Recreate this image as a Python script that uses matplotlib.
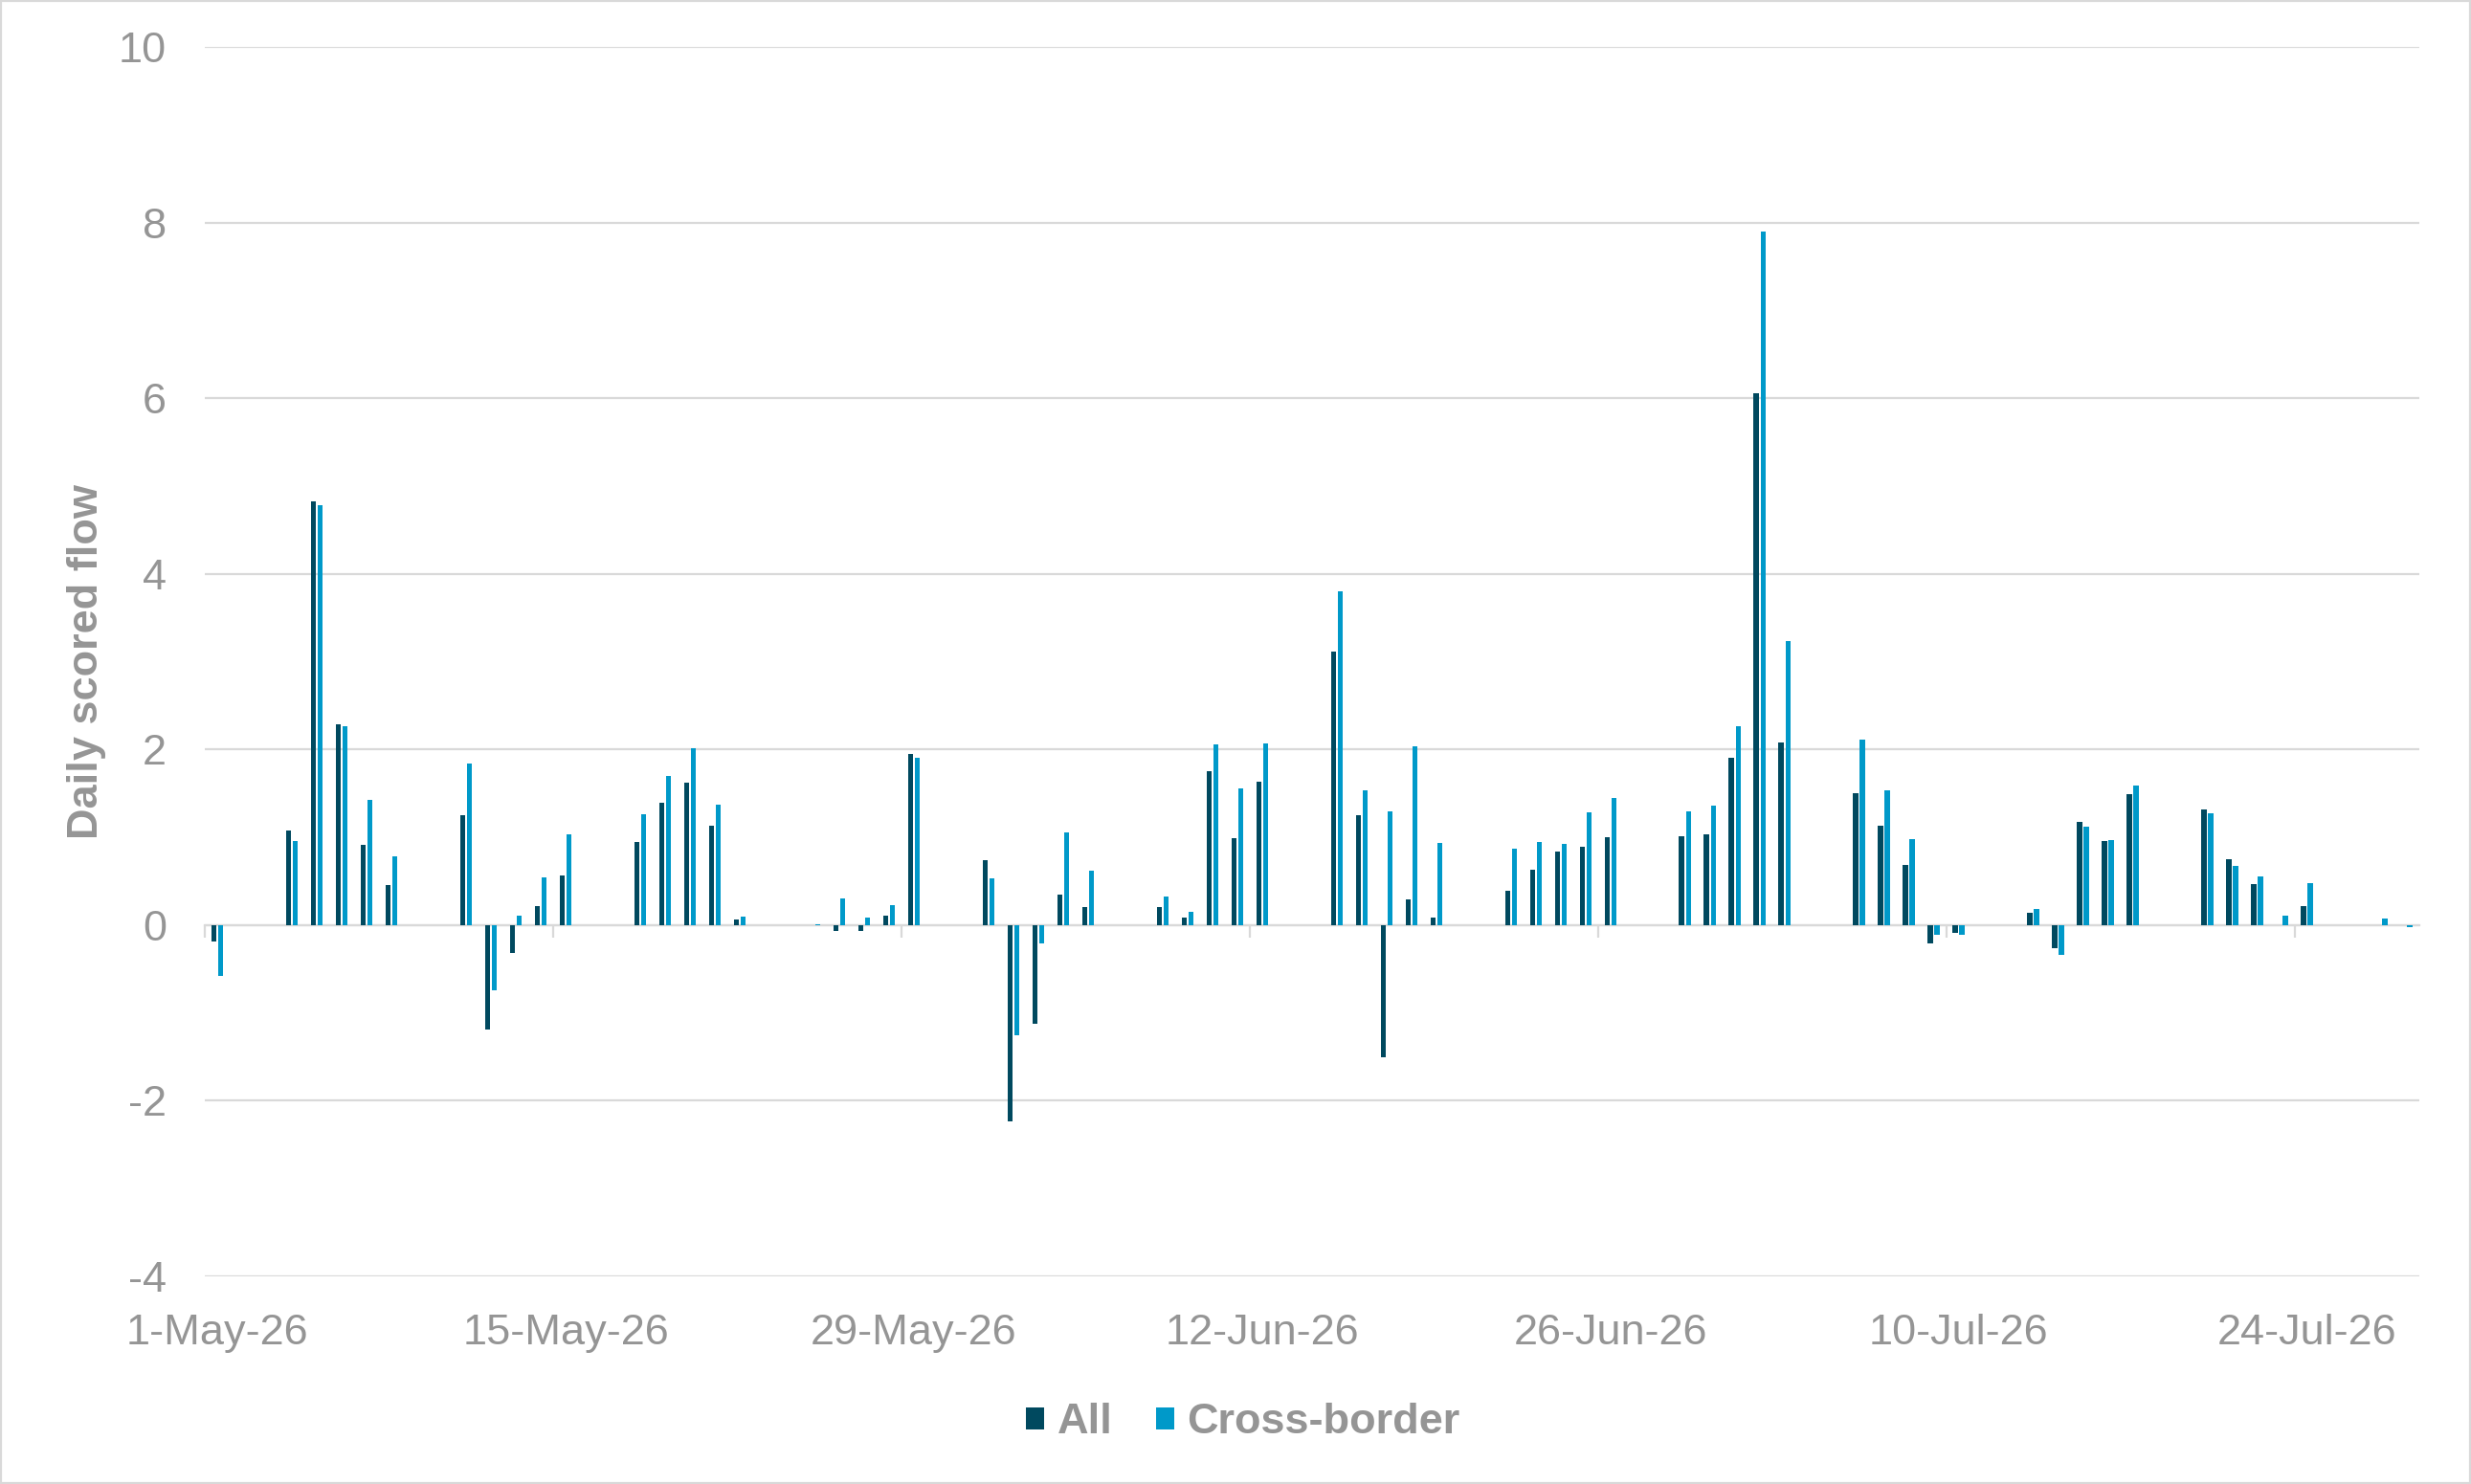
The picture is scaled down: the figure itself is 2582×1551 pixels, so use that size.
import matplotlib
matplotlib.use("Agg")
import matplotlib.pyplot as plt
import matplotlib.dates as mdates
from matplotlib.ticker import FixedLocator, FuncFormatter
import pandas as pd

plt.rcParams['font.family'] = ['Liberation Sans', 'DejaVu Sans']
plt.rcParams['axes.unicode_minus'] = False

dates = [
    "2026-05-01", "2026-05-04", "2026-05-05", "2026-05-06", "2026-05-07", "2026-05-08",
    "2026-05-11", "2026-05-12", "2026-05-13", "2026-05-14", "2026-05-15",
    "2026-05-18", "2026-05-19", "2026-05-20", "2026-05-21", "2026-05-22",
    "2026-05-25", "2026-05-26", "2026-05-27", "2026-05-28", "2026-05-29",
    "2026-06-01", "2026-06-02", "2026-06-03", "2026-06-04", "2026-06-05",
    "2026-06-08", "2026-06-09", "2026-06-10", "2026-06-11", "2026-06-12",
    "2026-06-15", "2026-06-16", "2026-06-17", "2026-06-18", "2026-06-19",
    "2026-06-22", "2026-06-23", "2026-06-24", "2026-06-25", "2026-06-26",
    "2026-06-29", "2026-06-30", "2026-07-01", "2026-07-02", "2026-07-03",
    "2026-07-06", "2026-07-07", "2026-07-08", "2026-07-09", "2026-07-10",
    "2026-07-13", "2026-07-14", "2026-07-15", "2026-07-16", "2026-07-17",
    "2026-07-20", "2026-07-21", "2026-07-22", "2026-07-23", "2026-07-24",
    "2026-07-27", "2026-07-28",
]

all_flow = [
    -0.19, 1.08, 4.82, 2.285, 0.91, 0.46,
    1.25, -1.19, -0.32, 0.22, 0.56,
    0.95, 1.39, 1.62, 1.13, 0.06,
    0.0, -0.07, -0.07, 0.11, 1.95,
    0.74, -2.24, -1.12, 0.35, 0.21,
    0.21, 0.09, 1.755, 0.99, 1.63,
    3.11, 1.25, -1.51, 0.29, 0.085,
    0.39, 0.63, 0.84, 0.89, 1.00,
    1.01, 1.03, 1.91, 6.06, 2.08,
    1.50, 1.13, 0.69, -0.21, -0.09,
    0.145, -0.26, 1.17, 0.96, 1.49,
    1.32, 0.75, 0.47, 0.0, 0.22,
    0.0, 0.0,
]

cross_border = [
    -0.58, 0.955, 4.78, 2.26, 1.43, 0.78,
    1.84, -0.74, 0.11, 0.54, 1.03,
    1.26, 1.70, 2.01, 1.37, 0.10,
    0.01, 0.30, 0.09, 0.23, 1.91,
    0.53, -1.25, -0.21, 1.06, 0.62,
    0.33, 0.15, 2.06, 1.56, 2.07,
    3.80, 1.54, 1.30, 2.04, 0.935,
    0.87, 0.95, 0.93, 1.28, 1.45,
    1.29, 1.36, 2.26, 7.895, 3.23,
    2.11, 1.54, 0.98, -0.105, -0.105,
    0.18, -0.34, 1.12, 0.97, 1.59,
    1.275, 0.67, 0.55, 0.11, 0.48,
    0.07, -0.02,
]

label_dates = ["2026-05-01", "2026-05-15", "2026-05-29", "2026-06-12",
               "2026-06-26", "2026-07-10", "2026-07-24"]
y_ticks = [-4, -2, 0, 2, 4, 6, 8, 10]

series_names = ["All", "Cross-border"]
colors = ["#00495F", "#0099C9"]
text_gray = "#959595"
grid_gray = "#D9D9D9"

x = mdates.date2num(pd.to_datetime(dates))
xl = mdates.date2num(pd.to_datetime(label_dates))

fig = plt.figure(figsize=(25.82, 15.51), dpi=100)
ax = fig.add_axes([0.0829, 0.1399, 0.8961, 0.8285])

bw = 0.22
ax.bar(x - 0.135, all_flow, width=bw, color=colors[0], label=series_names[0], zorder=3)
ax.bar(x + 0.135, cross_border, width=bw, color=colors[1], label=series_names[1], zorder=3)

ax.set_xlim(x[0] - 0.5, x[-1] + 0.5)
ax.set_ylim(-4, 10)
ax.set_yticks(y_ticks)
ax.yaxis.grid(True, color=grid_gray, linewidth=1.6, zorder=0)
ax.set_axisbelow(True)

for s in ["top", "right", "left"]:
    ax.spines[s].set_visible(False)
ax.spines["bottom"].set_position(("data", 0))
ax.spines["bottom"].set_color(grid_gray)
ax.spines["bottom"].set_linewidth(1.6)
ax.spines["bottom"].set_zorder(2)

ax.tick_params(axis="y", length=0, pad=29, labelsize=32.5, labelcolor=text_gray)

# tick marks at period boundaries on the zero line
ax.xaxis.set_major_locator(FixedLocator(list(xl - 0.5)))
ax.tick_params(axis="x", which="major", direction="out", length=9, width=1.6,
               color=grid_gray, labelbottom=False)

# labels at bottom of plot
sec = ax.secondary_xaxis("bottom")
sec.spines["bottom"].set_visible(False)
sec.xaxis.set_major_locator(FixedLocator(list(xl)))
sec.xaxis.set_major_formatter(FuncFormatter(
    lambda v, p: (lambda d: f"{d.day}-{d.strftime('%b-%y')}")(mdates.num2date(v))))
sec.tick_params(axis="x", length=0, pad=28, labelsize=32.5, labelcolor=text_gray)

ax.set_ylabel("Daily scored flow", fontsize=32.5, fontweight="bold", color=text_gray)
ax.yaxis.set_label_coords(-0.0445, 0.5)

leg = fig.legend(loc="center", bbox_to_anchor=(0.503, 0.0413), ncol=2, frameon=False,
                 prop={"size": 32.5, "weight": "bold"}, labelcolor=text_gray,
                 handlelength=0.42, handleheight=0.42, handletextpad=0.3,
                 columnspacing=1.0)

fig.patches.append(plt.Rectangle((0, 0), 1, 1, transform=fig.transFigure,
                                 fill=False, edgecolor=grid_gray, linewidth=3))

fig.savefig("out.png", dpi=100, facecolor="white")
